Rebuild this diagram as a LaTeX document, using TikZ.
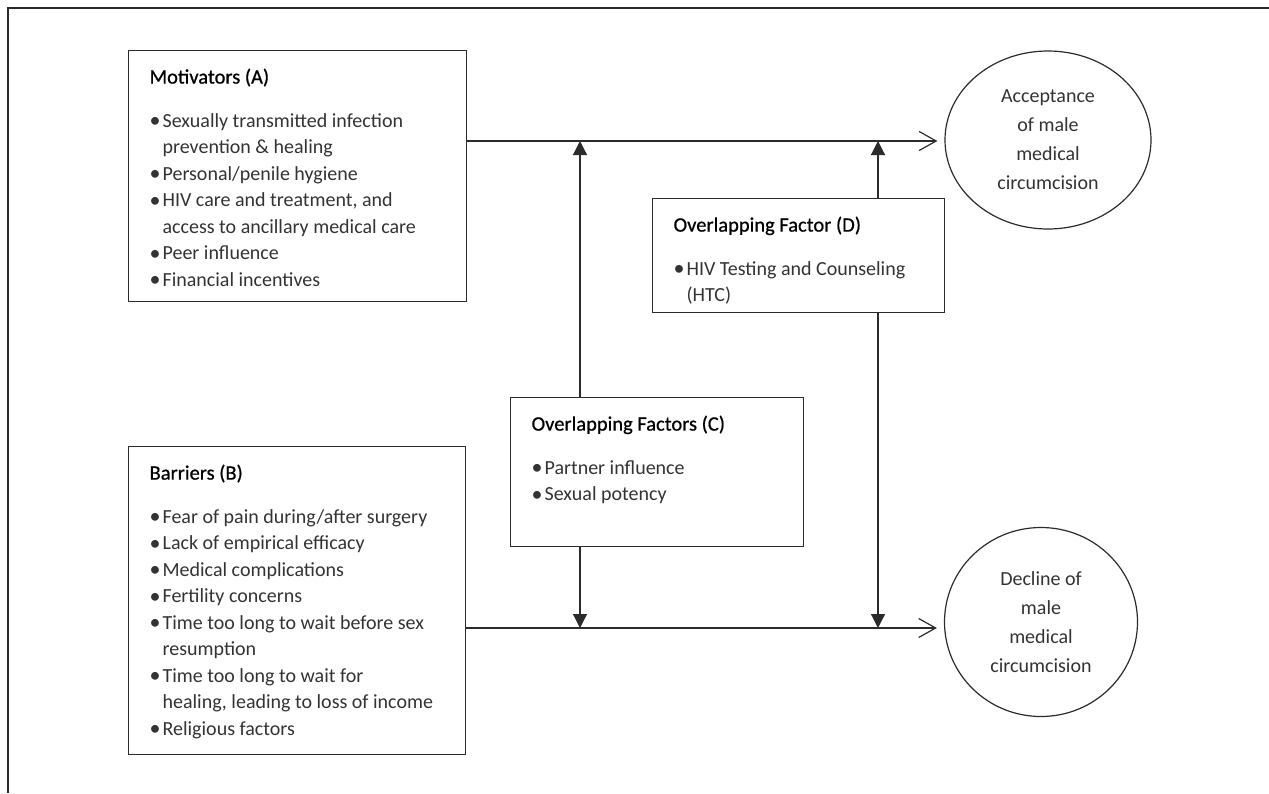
\documentclass[tikz,border=0pt]{standalone}
\usepackage{fontspec}
\setmainfont{Carlito}
\newfontface\headfont{Carlito}[FakeBold=0.7]
\usepackage{xcolor}
\usepackage{tikz}
\usetikzlibrary{arrows.meta,shapes.geometric,calc}

\definecolor{ink}{HTML}{2B2B2B}
\definecolor{textgray}{HTML}{333333}

\newcommand{\bul}[1]{\par\hangindent=13pt\hangafter=1\noindent
	\makebox[13pt][l]{\raisebox{-0.5pt}{\fontsize{22}{22}\selectfont\textbullet}}#1}
\newcommand{\factortext}[4]{\hspace*{21pt}\parbox[c][#2][t]{\dimexpr#1-21pt\relax}{\raggedright\fontsize{20}{26.5}\selectfont
	\rule{0pt}{33pt}{\headfont\fontsize{20.5}{26.5}\selectfont\color{black}#3}\par\vspace{17pt}\color{textgray}#4}}

\begin{document}
\begin{tikzpicture}[x=1pt, y=-1pt, >={Triangle[length=14pt,width=14pt]},
		factor/.style={draw=ink, rectangle, line width=1.2pt, inner sep=0pt, anchor=north west},
		outcome/.style={draw=ink, ellipse, line width=1.2pt, inner sep=0pt, align=center,
			font=\fontsize{20}{29}\selectfont, text=textgray},
		feed/.style={->, draw=ink, line width=1.2pt},
		reach/.style={-{Straight Barb[length=17pt,width=19pt]}, draw=ink, line width=1.2pt, shorten >=7pt}]
	\useasboundingbox (0,0) rectangle (1269,793);
	\draw [ink, line width=1.5pt] (1269,8) -- (8,8) -- (8,793);
	\begin{scope}
		\node [factor] (A) at (128,50) {\factortext{338pt}{251pt}{Motivators (A)}{%
			\bul{Sexually transmitted infection\newline prevention \& healing}
			\bul{Personal/penile hygiene}
			\bul{HIV care and treatment, and\newline access to ancillary medical care}
			\bul{Peer influence}
			\bul{Financial incentives}}};
		\node [factor] (B) at (128,446) {\factortext{337pt}{308pt}{Barriers (B)}{%
			\bul{Fear of pain during/after surgery}
			\bul{Lack of empirical efficacy}
			\bul{Medical complications}
			\bul{Fertility concerns}
			\bul{Time too long to wait before sex\newline resumption}
			\bul{Time too long to wait for\newline healing, leading to loss of income}
			\bul{Religious factors}}};
		\node [factor] (C) at (510,397) {\factortext{293pt}{149pt}{Overlapping Factors (C)}{%
			\bul{Partner influence}
			\bul{Sexual potency}}};
		\node [factor] (D) at (652,198) {\factortext{292pt}{114pt}{Overlapping Factor (D)}{%
			\bul{HIV Testing and Counseling\newline (HTC)}}};

		\node [outcome, minimum width=206pt, minimum height=178pt] (acc) at (1048,140)
			{Acceptance\\of male\\medical\\circumcision};
		\node [outcome, minimum width=193pt, minimum height=189pt] (dec) at (1041,622)
			{Decline of\\male\\medical\\circumcision};

		\coordinate (railA) at (0,141);
		\coordinate (railB) at (0,628);
		\coordinate (colC) at (580,0);
		\coordinate (colD) at (878,0);

		\path (A.east |- railA) edge [reach] (acc.west |- railA)
		      (B.east |- railB) edge [reach] (dec.west |- railB)
		      (C.north -| colC) edge [feed] (railA -| colC)
		      (C.south -| colC) edge [feed] (railB -| colC)
		      (D.north -| colD) edge [feed] (railA -| colD)
		      (D.south -| colD) edge [feed] (railB -| colD);
	\end{scope}
\end{tikzpicture}
\end{document}
